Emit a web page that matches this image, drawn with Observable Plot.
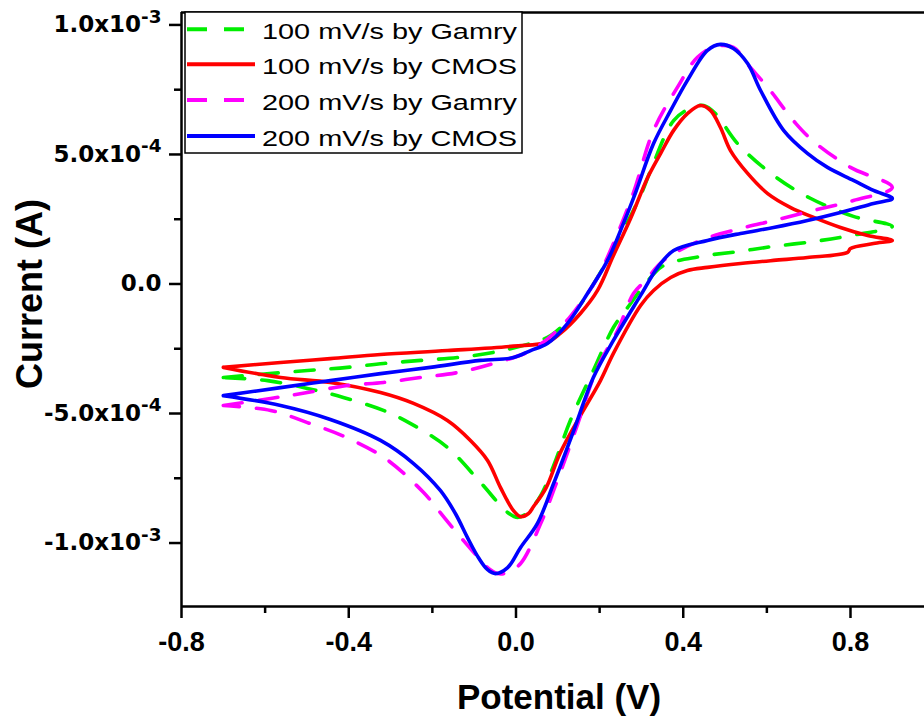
<!DOCTYPE html>
<html><head><meta charset="utf-8">
<script src="https://cdn.jsdelivr.net/npm/d3@7"></script>
<script src="https://cdn.jsdelivr.net/npm/@observablehq/plot@0.6"></script>
<style>
html,body{margin:0;padding:0;background:#fff;}
#chart{width:924px;height:720px;overflow:hidden;}
</style></head><body><div id="chart"></div>
<script>
// ---- data ----
const seriesNames = ["100 mV/s by Gamry", "100 mV/s by CMOS", "200 mV/s by Gamry", "200 mV/s by CMOS"];
const seriesColors = ["#00ee00", "#ff0000", "#ff00ff", "#0000ff"];
const seriesDashed = [true, false, true, false];

// potential (V) and current (x1e-4 A), one closed scan each, starting at -0.7 V
const gamry100E = [-0.70,-0.499,-0.403,-0.317,-0.228,-0.140,-0.054,0.042,0.083,0.138,0.195,0.250,0.298,0.322,0.377,0.417,0.449,0.477,0.530,0.616,0.705,0.807,0.90,
  0.800,0.712,0.616,0.530,0.441,0.353,0.310,0.267,0.233,0.185,0.130,0.090,0.059,0.028,0.004,-0.020,-0.085,-0.164,-0.252,-0.317,-0.413,-0.499,-0.594,-0.70];
const gamry100I = [-3.61,-3.34,-3.22,-3.07,-2.95,-2.84,-2.64,-2.26,-1.99,-1.14,0.25,1.87,3.42,4.38,6.31,6.78,6.89,6.58,5.42,4.19,3.30,2.61,2.22,
  1.87,1.64,1.45,1.25,1.06,0.71,0.02,-0.91,-1.68,-3.34,-5.27,-7.01,-8.17,-8.82,-9.01,-8.82,-7.66,-6.31,-5.39,-4.88,-4.38,-4.03,-3.73,-3.61];

const cmos100E = [-0.70,-0.563,-0.444,-0.324,-0.164,-0.006,0.075,0.106,0.154,0.195,0.233,0.274,0.315,0.346,0.377,0.410,0.441,0.465,0.489,0.513,0.554,0.602,0.657,0.712,0.776,0.841,0.90,
  0.855,0.800,0.793,0.697,0.616,0.537,0.458,0.410,0.370,0.329,0.298,0.233,0.202,0.154,0.106,0.071,0.042,0.030,0.011,-0.006,-0.037,-0.068,-0.109,-0.164,-0.245,-0.324,-0.444,-0.563,-0.70];
const cmos100I = [-3.22,-3.03,-2.88,-2.72,-2.57,-2.40,-2.25,-1.91,-1.14,-0.25,1.10,2.53,4.11,5.04,5.93,6.58,6.89,6.70,6.04,5.15,4.27,3.49,2.95,2.57,2.18,1.87,1.68,
  1.56,1.37,1.22,1.02,0.91,0.79,0.64,0.52,0.25,-0.25,-0.83,-2.68,-3.73,-5.08,-6.51,-7.90,-8.59,-8.86,-8.98,-8.75,-7.86,-6.81,-6.04,-5.27,-4.61,-4.19,-3.80,-3.61,-3.22];

const gamry200E = [-0.70,-0.587,-0.499,-0.403,-0.317,-0.228,-0.140,-0.054,0.035,0.106,0.154,0.195,0.233,0.281,0.329,0.386,0.434,0.477,0.520,0.556,0.602,0.669,0.712,0.800,0.90,
  0.807,0.712,0.616,0.537,0.441,0.353,0.310,0.281,0.243,0.195,0.142,0.090,0.059,0.011,-0.020,-0.044,-0.068,-0.109,-0.150,-0.185,-0.221,-0.312,-0.405,-0.499,-0.587,-0.70];
const gamry200I = [-4.69,-4.42,-4.19,-3.92,-3.80,-3.61,-3.42,-3.07,-2.57,-1.68,-0.75,0.25,1.56,3.53,5.93,7.59,8.75,9.17,9.13,8.44,7.59,6.20,5.50,4.50,3.73,
  3.22,2.84,2.45,2.14,1.68,0.91,0.14,-0.37,-1.80,-3.22,-5.66,-7.97,-9.25,-10.79,-11.14,-11.18,-10.95,-10.21,-9.44,-8.75,-8.05,-6.74,-5.93,-5.35,-4.88,-4.69];

const cmos200E = [-0.70,-0.563,-0.444,-0.324,-0.205,-0.085,-0.006,0.035,0.075,0.123,0.171,0.219,0.255,0.286,0.329,0.370,0.410,0.458,0.489,0.520,0.554,0.585,0.640,0.697,0.745,0.807,0.855,0.90,
  0.855,0.776,0.697,0.616,0.537,0.458,0.377,0.339,0.298,0.233,0.185,0.138,0.090,0.051,0.011,-0.020,-0.049,-0.068,-0.090,-0.116,-0.145,-0.181,-0.245,-0.324,-0.444,-0.563,-0.70];
const cmos200I = [-4.31,-4.00,-3.73,-3.46,-3.22,-2.95,-2.84,-2.57,-2.30,-1.53,-0.37,0.91,2.26,3.53,5.42,6.70,7.86,9.02,9.25,9.09,8.51,7.47,5.93,5.04,4.50,4.00,3.61,3.30,
  3.11,2.76,2.45,2.18,1.95,1.68,1.29,0.64,-0.44,-2.18,-3.61,-5.66,-7.70,-9.25,-10.17,-10.95,-11.18,-11.03,-10.56,-9.79,-8.86,-7.97,-6.93,-6.04,-5.23,-4.69,-4.31];

const xTicks = [-0.8, -0.4, 0, 0.4, 0.8];
const xTickLabels = ["-0.8", "-0.4", "0.0", "0.4", "0.8"];
const xMinorTicks = [-0.6, -0.2, 0.2, 0.6];
const yTicks = [-1e-3, -5e-4, 0, 5e-4, 1e-3];
const yTickMantissa = ["-1.0", "-5.0", "0.0", "5.0", "1.0"];
const yTickExponent = ["-3", "-4", "", "-4", "-3"];
const yMinorTicks = [-7.5e-4, -2.5e-4, 2.5e-4, 7.5e-4];
const xTitle = "Potential (V)";
const yTitle = "Current (A)";

// ---- build ----
const seriesE = [gamry100E, cmos100E, gamry200E, cmos200E];
const seriesI = [gamry100I, cmos100I, gamry200I, cmos200I];
const rows = seriesE.map((E, s) => E.map((e, k) => ({E: e, I: seriesI[s][k] * 1e-4, s})));

const xDomain = [-0.8, 0.977];
const yDomain = [-1.245e-3, 1.048e-3];

const lineMarks = rows.map((r, s) => Plot.line(r, {
  x: "E", y: "I", stroke: seriesColors[s], strokeWidth: 3.6,
  strokeDasharray: seriesDashed[s] ? "19,17" : null, curve: "catmull-rom"
}));

const plot = Plot.plot({
  width: 924, height: 720,
  marginLeft: 181, marginRight: 0, marginTop: 12, marginBottom: 114,
  x: {domain: xDomain},
  y: {domain: yDomain},
  style: {background: "#fff", color: "#000", overflow: "visible"},
  marks: [
    ...lineMarks,
    Plot.ruleX([xDomain[0]], {stroke: "#000", strokeWidth: 2.5}),
    Plot.ruleY([yDomain[0]], {stroke: "#000", strokeWidth: 2.5}),
    Plot.ruleY([yDomain[1]], {stroke: "#000", strokeWidth: 2.5}),
    Plot.axisX(xTicks, {tickSize: 12, tickPadding: 13, strokeWidth: 2.5,
      tickFormat: d => xTickLabels[xTicks.indexOf(d)],
      fontSize: 27, fontWeight: "bold", fontFamily: "Liberation Sans, Arial, sans-serif", label: null}),
    Plot.axisX(xMinorTicks, {tickSize: 7, strokeWidth: 2.5, tickFormat: () => "", label: null}),
    Plot.axisY(yTicks, {tickSize: 12, tickPadding: 8, strokeWidth: 2.5,
      tickFormat: d => { const i = yTicks.indexOf(d); return yTickExponent[i] ? yTickMantissa[i] + "x10|" + yTickExponent[i] : yTickMantissa[i]; },
      fontSize: 23, fontWeight: "bold", fontFamily: "DejaVu Sans, sans-serif", label: null}),
    Plot.axisY(yMinorTicks, {tickSize: 7, strokeWidth: 2.5, tickFormat: () => "", label: null})
  ]
});

const ns = "http://www.w3.org/2000/svg";
// superscripts
plot.querySelectorAll("text").forEach(t => {
  const s = t.textContent;
  if (s.includes("|")) {
    const [b, e] = s.split("|");
    t.textContent = b;
    const ts = document.createElementNS(ns, "tspan");
    ts.setAttribute("dy", "-0.52em");
    ts.setAttribute("font-size", "0.8em");
    ts.textContent = e;
    t.appendChild(ts);
  }
});

function el(tag, attrs, text) {
  const e = document.createElementNS(ns, tag);
  for (const k in attrs) e.setAttribute(k, attrs[k]);
  if (text != null) e.textContent = text;
  plot.appendChild(e);
  return e;
}
// axis titles
el("text", {x: 559, y: 709, "text-anchor": "middle", "font-family": "Liberation Sans, Arial, sans-serif",
  "font-weight": "bold", "font-size": 35, fill: "#000"}, xTitle);
el("text", {transform: "translate(42,294) rotate(-90)", "text-anchor": "middle", "font-family": "Liberation Sans, Arial, sans-serif",
  "font-weight": "bold", "font-size": 36, fill: "#000"}, yTitle);
// legend
el("rect", {x: 185, y: 12, width: 337, height: 141, fill: "#fff", stroke: "#000", "stroke-width": 1.5});
const rowY = [29.3, 64.3, 100, 136];
seriesNames.forEach((n, i) => {
  el("line", {x1: 187, x2: 255, y1: rowY[i], y2: rowY[i], stroke: seriesColors[i], "stroke-width": 4,
    "stroke-dasharray": seriesDashed[i] ? "20,17" : "none"});
  el("text", {x: 262, y: rowY[i] + 10, "text-anchor": "start", "font-family": "Liberation Sans, Arial, sans-serif",
    "font-size": 22, fill: "#000", textLength: 255, lengthAdjust: "spacingAndGlyphs"}, n);
});

document.getElementById("chart").appendChild(plot);
</script>
</body></html>
